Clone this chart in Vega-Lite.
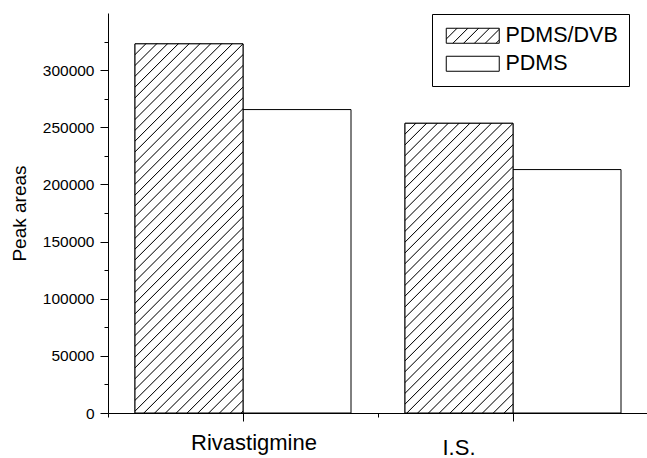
{
  "$schema": "https://vega.github.io/schema/vega-lite/v6.json",
  "width": 540,
  "height": 400,
  "autosize": "none",
  "padding": {"left": 108, "top": 13, "right": 0, "bottom": 45},
  "background": "white",
  "data": {"values": [
    {"category": "Rivastigmine", "fiber": "PDMS/DVB", "value": 323000},
    {"category": "Rivastigmine", "fiber": "PDMS", "value": 265500},
    {"category": "I.S.", "fiber": "PDMS/DVB", "value": 253500},
    {"category": "I.S.", "fiber": "PDMS", "value": 213000}
  ]},
  "layer": [
    {
      "mark": {"type": "bar", "stroke": "black", "strokeWidth": 1},
      "encoding": {
        "x": {"field": "category", "type": "nominal", "sort": ["Rivastigmine", "I.S."],
          "scale": {"domain": ["Rivastigmine", "I.S."], "paddingInner": 0, "paddingOuter": 0},
          "axis": {"orient": "bottom", "title": null, "bandPosition": 0.5, "tickSize": 8, "labelAngle": 0,
            "labelFontSize": 22,
            "labelOffset": {"condition": {"test": "datum.value == 'I.S.'", "value": -54}, "value": 11},
            "labelPadding": {"condition": {"test": "datum.value == 'I.S.'", "value": 16}, "value": 11}}},
        "xOffset": {"field": "fiber", "type": "nominal", "sort": ["PDMS/DVB", "PDMS"],
          "scale": {"domain": ["PDMS/DVB", "PDMS"], "paddingInner": 0, "paddingOuter": 0.25}},
        "y": {"field": "value", "type": "quantitative",
          "scale": {"domain": [0, 350000], "nice": false, "zero": true},
          "axis": {"orient": "left", "values": [0, 50000, 100000, 150000, 200000, 250000, 300000],
            "format": "d", "tickSize": 8, "labelPadding": 6, "labelFontSize": 15.5, "labelOverlap": false, "labelFlush": false,
            "title": "Peak areas", "titleFontSize": 19, "titleFontWeight": "normal", "titlePadding": 13}},
        "fill": {
          "field": "fiber", "type": "nominal",
          "scale": {"domain": ["PDMS/DVB", "PDMS"], "range": [
            {"expr": "{gradient: 'linear', x1: 0, y1: 0, x2: 8.385, y2: 2.373, stops: [{offset: 0.0203, color: '#fff'}, {offset: 0.0225, color: '#000'}, {offset: 0.0247, color: '#fff'}, {offset: 0.0428, color: '#fff'}, {offset: 0.045, color: '#000'}, {offset: 0.0472, color: '#fff'}, {offset: 0.0653, color: '#fff'}, {offset: 0.0675, color: '#000'}, {offset: 0.0697, color: '#fff'}, {offset: 0.0878, color: '#fff'}, {offset: 0.09, color: '#000'}, {offset: 0.0922, color: '#fff'}, {offset: 0.1103, color: '#fff'}, {offset: 0.1125, color: '#000'}, {offset: 0.1147, color: '#fff'}, {offset: 0.1328, color: '#fff'}, {offset: 0.135, color: '#000'}, {offset: 0.1372, color: '#fff'}, {offset: 0.1553, color: '#fff'}, {offset: 0.1575, color: '#000'}, {offset: 0.1597, color: '#fff'}]}"},
            "white"]},
          "legend": {
            "title": null, "orient": "none", "legendX": 324, "legendY": 1,
            "padding": 11, "strokeColor": "black", "fillColor": "white", "cornerRadius": 0,
            "labelFontSize": 21.5, "labelFont": "Liberation Sans", "labelColor": "black",
            "labelOffset": 22, "symbolOffset": 19, "rowPadding": 5,
            "symbolType": "M-3.533,-1H3.533V1H-3.533Z", "symbolSize": 225,
            "symbolStrokeColor": "black", "symbolStrokeWidth": 1
          }
        }
      }
    },
    {
      "transform": [{"filter": "datum.category == 'Rivastigmine' && datum.fiber == 'PDMS/DVB'"}],
      "mark": {"type": "bar", "stroke": "black", "strokeWidth": 1,
        "fill": {"gradient": "linear", "x1": 0, "y1": 0, "x2": 0.35051, "y2": 1.19792, "stops": [
{"offset":0.0203,"color":"#fff"},{"offset":0.0225,"color":"#000"},{"offset":0.0247,"color":"#fff"},
{"offset":0.0428,"color":"#fff"},{"offset":0.045,"color":"#000"},{"offset":0.0472,"color":"#fff"},
{"offset":0.0653,"color":"#fff"},{"offset":0.0675,"color":"#000"},{"offset":0.0697,"color":"#fff"},
{"offset":0.0878,"color":"#fff"},{"offset":0.09,"color":"#000"},{"offset":0.0922,"color":"#fff"},
{"offset":0.1103,"color":"#fff"},{"offset":0.1125,"color":"#000"},{"offset":0.1147,"color":"#fff"},
{"offset":0.1328,"color":"#fff"},{"offset":0.135,"color":"#000"},{"offset":0.1372,"color":"#fff"},
{"offset":0.1553,"color":"#fff"},{"offset":0.1575,"color":"#000"},{"offset":0.1597,"color":"#fff"},
{"offset":0.1778,"color":"#fff"},{"offset":0.18,"color":"#000"},{"offset":0.1822,"color":"#fff"},
{"offset":0.2003,"color":"#fff"},{"offset":0.2025,"color":"#000"},{"offset":0.2047,"color":"#fff"},
{"offset":0.2228,"color":"#fff"},{"offset":0.225,"color":"#000"},{"offset":0.2272,"color":"#fff"},
{"offset":0.2453,"color":"#fff"},{"offset":0.2475,"color":"#000"},{"offset":0.2497,"color":"#fff"},
{"offset":0.2678,"color":"#fff"},{"offset":0.27,"color":"#000"},{"offset":0.2722,"color":"#fff"},
{"offset":0.2903,"color":"#fff"},{"offset":0.2925,"color":"#000"},{"offset":0.2947,"color":"#fff"},
{"offset":0.3128,"color":"#fff"},{"offset":0.315,"color":"#000"},{"offset":0.3172,"color":"#fff"},
{"offset":0.3353,"color":"#fff"},{"offset":0.3375,"color":"#000"},{"offset":0.3397,"color":"#fff"},
{"offset":0.3578,"color":"#fff"},{"offset":0.36,"color":"#000"},{"offset":0.3622,"color":"#fff"},
{"offset":0.3803,"color":"#fff"},{"offset":0.3825,"color":"#000"},{"offset":0.3847,"color":"#fff"},
{"offset":0.4028,"color":"#fff"},{"offset":0.405,"color":"#000"},{"offset":0.4072,"color":"#fff"},
{"offset":0.4253,"color":"#fff"},{"offset":0.4275,"color":"#000"},{"offset":0.4297,"color":"#fff"},
{"offset":0.4478,"color":"#fff"},{"offset":0.45,"color":"#000"},{"offset":0.4522,"color":"#fff"},
{"offset":0.4703,"color":"#fff"},{"offset":0.4725,"color":"#000"},{"offset":0.4747,"color":"#fff"},
{"offset":0.4928,"color":"#fff"},{"offset":0.495,"color":"#000"},{"offset":0.4972,"color":"#fff"},
{"offset":0.5153,"color":"#fff"},{"offset":0.5175,"color":"#000"},{"offset":0.5197,"color":"#fff"},
{"offset":0.5378,"color":"#fff"},{"offset":0.54,"color":"#000"},{"offset":0.5422,"color":"#fff"},
{"offset":0.5603,"color":"#fff"},{"offset":0.5625,"color":"#000"},{"offset":0.5647,"color":"#fff"},
{"offset":0.5828,"color":"#fff"},{"offset":0.585,"color":"#000"},{"offset":0.5872,"color":"#fff"},
{"offset":0.6053,"color":"#fff"},{"offset":0.6075,"color":"#000"},{"offset":0.6097,"color":"#fff"},
{"offset":0.6278,"color":"#fff"},{"offset":0.63,"color":"#000"},{"offset":0.6322,"color":"#fff"},
{"offset":0.6503,"color":"#fff"},{"offset":0.6525,"color":"#000"},{"offset":0.6547,"color":"#fff"},
{"offset":0.6728,"color":"#fff"},{"offset":0.675,"color":"#000"},{"offset":0.6772,"color":"#fff"},
{"offset":0.6953,"color":"#fff"},{"offset":0.6975,"color":"#000"},{"offset":0.6997,"color":"#fff"},
{"offset":0.7178,"color":"#fff"},{"offset":0.72,"color":"#000"},{"offset":0.7222,"color":"#fff"},
{"offset":0.7403,"color":"#fff"},{"offset":0.7425,"color":"#000"},{"offset":0.7447,"color":"#fff"},
{"offset":0.7628,"color":"#fff"},{"offset":0.765,"color":"#000"},{"offset":0.7672,"color":"#fff"},
{"offset":0.7853,"color":"#fff"},{"offset":0.7875,"color":"#000"},{"offset":0.7897,"color":"#fff"},
{"offset":0.8078,"color":"#fff"},{"offset":0.81,"color":"#000"},{"offset":0.8122,"color":"#fff"},
{"offset":0.8303,"color":"#fff"},{"offset":0.8325,"color":"#000"},{"offset":0.8347,"color":"#fff"},
{"offset":0.8528,"color":"#fff"},{"offset":0.855,"color":"#000"},{"offset":0.8572,"color":"#fff"},
{"offset":0.8753,"color":"#fff"},{"offset":0.8775,"color":"#000"},{"offset":0.8797,"color":"#fff"},
{"offset":0.8978,"color":"#fff"},{"offset":0.9,"color":"#000"},{"offset":0.9022,"color":"#fff"},
{"offset":0.9203,"color":"#fff"},{"offset":0.9225,"color":"#000"},{"offset":0.9247,"color":"#fff"},
{"offset":0.9428,"color":"#fff"},{"offset":0.945,"color":"#000"},{"offset":0.9472,"color":"#fff"},
{"offset":0.9653,"color":"#fff"},{"offset":0.9675,"color":"#000"},{"offset":0.9697,"color":"#fff"},
{"offset":0.9878,"color":"#fff"},{"offset":0.99,"color":"#000"},{"offset":0.9922,"color":"#fff"}
        ]}},
      "encoding": {
        "x": {"field": "category", "type": "nominal", "sort": ["Rivastigmine", "I.S."], "axis": null},
        "xOffset": {"field": "fiber", "type": "nominal", "sort": ["PDMS/DVB", "PDMS"]},
        "y": {"field": "value", "type": "quantitative", "axis": null}
      }
    },
    {
      "transform": [{"filter": "datum.category == 'I.S.' && datum.fiber == 'PDMS/DVB'"}],
      "mark": {"type": "bar", "stroke": "black", "strokeWidth": 1,
        "fill": {"gradient": "linear", "x1": 0, "y1": 0, "x2": 0.5423, "y2": 1.4547, "stops": [
{"offset":0.0203,"color":"#fff"},{"offset":0.0225,"color":"#000"},{"offset":0.0247,"color":"#fff"},
{"offset":0.0428,"color":"#fff"},{"offset":0.045,"color":"#000"},{"offset":0.0472,"color":"#fff"},
{"offset":0.0653,"color":"#fff"},{"offset":0.0675,"color":"#000"},{"offset":0.0697,"color":"#fff"},
{"offset":0.0878,"color":"#fff"},{"offset":0.09,"color":"#000"},{"offset":0.0922,"color":"#fff"},
{"offset":0.1103,"color":"#fff"},{"offset":0.1125,"color":"#000"},{"offset":0.1147,"color":"#fff"},
{"offset":0.1328,"color":"#fff"},{"offset":0.135,"color":"#000"},{"offset":0.1372,"color":"#fff"},
{"offset":0.1553,"color":"#fff"},{"offset":0.1575,"color":"#000"},{"offset":0.1597,"color":"#fff"},
{"offset":0.1778,"color":"#fff"},{"offset":0.18,"color":"#000"},{"offset":0.1822,"color":"#fff"},
{"offset":0.2003,"color":"#fff"},{"offset":0.2025,"color":"#000"},{"offset":0.2047,"color":"#fff"},
{"offset":0.2228,"color":"#fff"},{"offset":0.225,"color":"#000"},{"offset":0.2272,"color":"#fff"},
{"offset":0.2453,"color":"#fff"},{"offset":0.2475,"color":"#000"},{"offset":0.2497,"color":"#fff"},
{"offset":0.2678,"color":"#fff"},{"offset":0.27,"color":"#000"},{"offset":0.2722,"color":"#fff"},
{"offset":0.2903,"color":"#fff"},{"offset":0.2925,"color":"#000"},{"offset":0.2947,"color":"#fff"},
{"offset":0.3128,"color":"#fff"},{"offset":0.315,"color":"#000"},{"offset":0.3172,"color":"#fff"},
{"offset":0.3353,"color":"#fff"},{"offset":0.3375,"color":"#000"},{"offset":0.3397,"color":"#fff"},
{"offset":0.3578,"color":"#fff"},{"offset":0.36,"color":"#000"},{"offset":0.3622,"color":"#fff"},
{"offset":0.3803,"color":"#fff"},{"offset":0.3825,"color":"#000"},{"offset":0.3847,"color":"#fff"},
{"offset":0.4028,"color":"#fff"},{"offset":0.405,"color":"#000"},{"offset":0.4072,"color":"#fff"},
{"offset":0.4253,"color":"#fff"},{"offset":0.4275,"color":"#000"},{"offset":0.4297,"color":"#fff"},
{"offset":0.4478,"color":"#fff"},{"offset":0.45,"color":"#000"},{"offset":0.4522,"color":"#fff"},
{"offset":0.4703,"color":"#fff"},{"offset":0.4725,"color":"#000"},{"offset":0.4747,"color":"#fff"},
{"offset":0.4928,"color":"#fff"},{"offset":0.495,"color":"#000"},{"offset":0.4972,"color":"#fff"},
{"offset":0.5153,"color":"#fff"},{"offset":0.5175,"color":"#000"},{"offset":0.5197,"color":"#fff"},
{"offset":0.5378,"color":"#fff"},{"offset":0.54,"color":"#000"},{"offset":0.5422,"color":"#fff"},
{"offset":0.5603,"color":"#fff"},{"offset":0.5625,"color":"#000"},{"offset":0.5647,"color":"#fff"},
{"offset":0.5828,"color":"#fff"},{"offset":0.585,"color":"#000"},{"offset":0.5872,"color":"#fff"},
{"offset":0.6053,"color":"#fff"},{"offset":0.6075,"color":"#000"},{"offset":0.6097,"color":"#fff"},
{"offset":0.6278,"color":"#fff"},{"offset":0.63,"color":"#000"},{"offset":0.6322,"color":"#fff"},
{"offset":0.6503,"color":"#fff"},{"offset":0.6525,"color":"#000"},{"offset":0.6547,"color":"#fff"},
{"offset":0.6728,"color":"#fff"},{"offset":0.675,"color":"#000"},{"offset":0.6772,"color":"#fff"},
{"offset":0.6953,"color":"#fff"},{"offset":0.6975,"color":"#000"},{"offset":0.6997,"color":"#fff"},
{"offset":0.7178,"color":"#fff"},{"offset":0.72,"color":"#000"},{"offset":0.7222,"color":"#fff"},
{"offset":0.7403,"color":"#fff"},{"offset":0.7425,"color":"#000"},{"offset":0.7447,"color":"#fff"},
{"offset":0.7628,"color":"#fff"},{"offset":0.765,"color":"#000"},{"offset":0.7672,"color":"#fff"},
{"offset":0.7853,"color":"#fff"},{"offset":0.7875,"color":"#000"},{"offset":0.7897,"color":"#fff"},
{"offset":0.8078,"color":"#fff"},{"offset":0.81,"color":"#000"},{"offset":0.8122,"color":"#fff"},
{"offset":0.8303,"color":"#fff"},{"offset":0.8325,"color":"#000"},{"offset":0.8347,"color":"#fff"},
{"offset":0.8528,"color":"#fff"},{"offset":0.855,"color":"#000"},{"offset":0.8572,"color":"#fff"}
        ]}},
      "encoding": {
        "x": {"field": "category", "type": "nominal", "sort": ["Rivastigmine", "I.S."], "axis": null},
        "xOffset": {"field": "fiber", "type": "nominal", "sort": ["PDMS/DVB", "PDMS"]},
        "y": {"field": "value", "type": "quantitative", "axis": null}
      }
    },
    {
      "mark": {"type": "bar", "opacity": 0},
      "encoding": {
        "x": {"field": "category", "type": "nominal", "sort": ["Rivastigmine", "I.S."],
          "axis": {"orient": "bottom", "title": null, "bandPosition": 0, "tickSize": 4, "labels": false, "domain": false}},
        "y": {"field": "value", "type": "quantitative",
          "axis": {"orient": "left", "values": [25000, 75000, 125000, 175000, 225000, 275000, 325000],
            "tickSize": 4, "labels": false, "domain": false, "title": null}}
      }
    }
  ],
  "resolve": {"axis": {"x": "independent", "y": "independent"}},
  "config": {
    "view": {"stroke": null},
    "font": "Liberation Sans",
    "axis": {"domainColor": "black", "tickColor": "black", "labelColor": "black", "titleColor": "black",
      "labelFont": "Liberation Sans", "titleFont": "Liberation Sans", "grid": false, "domainWidth": 1, "tickWidth": 1}
  }
}
